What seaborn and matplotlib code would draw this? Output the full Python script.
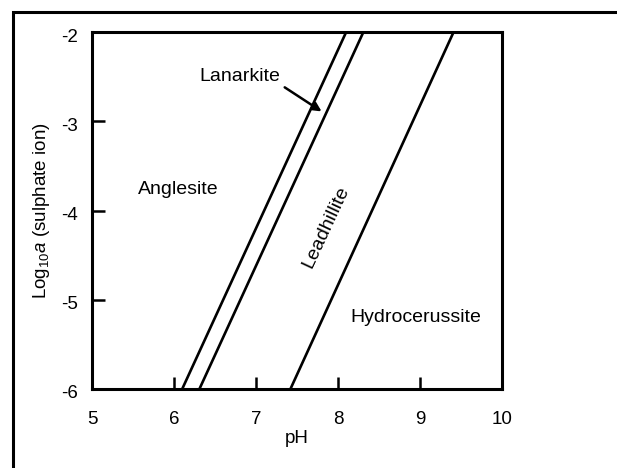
import matplotlib
matplotlib.use("Agg")
import matplotlib.pyplot as plt
import matplotlib.transforms as mtransforms
import seaborn as sns
import pandas as pd
from matplotlib.patches import Rectangle

# Boundary lines (pH at log a = -6 and at log a = -2)
boundaries = ["Anglesite/Lanarkite", "Lanarkite/Leadhillite", "Leadhillite/Hydrocerussite"]
ph_low = [6.10, 6.31, 7.42]
ph_high = [8.10, 8.31, 9.41]
log_low = [-6, -6, -6]
log_high = [-2, -2, -2]

x_ticks = [5, 6, 7, 8, 9, 10]
y_ticks = [-6, -5, -4, -3, -2]

region_labels = ["Anglesite", "Hydrocerussite"]
region_x = [6.05, 8.95]
region_y = [-3.76, -5.20]

rows = []
for b, x0, x1, y0, y1 in zip(boundaries, ph_low, ph_high, log_low, log_high):
    rows.append({"boundary": b, "pH": x0, "loga": y0})
    rows.append({"boundary": b, "pH": x1, "loga": y1})
df = pd.DataFrame(rows)

sns.set_style("white")
plt.rcParams["font.family"] = ["Liberation Sans", "DejaVu Sans"]
plt.rcParams["mathtext.fontset"] = "custom"
plt.rcParams["mathtext.rm"] = "Liberation Sans"
plt.rcParams["mathtext.it"] = "Liberation Sans:italic"
plt.rcParams["text.color"] = "black"
plt.rcParams["axes.labelcolor"] = "black"
plt.rcParams["xtick.color"] = "black"
plt.rcParams["ytick.color"] = "black"

fig = plt.figure(figsize=(6.17, 4.68), dpi=100)
ax = fig.add_axes([92/617, 1 - 389/468, 410/617, 357/468])

sns.lineplot(data=df, x="pH", y="loga", units="boundary", estimator=None,
             color="black", linewidth=1.9, ax=ax, sort=False)

ax.set_xlim(5, 10)
ax.set_ylim(-6, -2)
ax.set_xticks(x_ticks)
ax.set_yticks(y_ticks)
ax.set_xticklabels([str(t) for t in x_ticks])
ax.set_yticklabels([str(t) for t in y_ticks])
ax.tick_params(axis="x", direction="in", length=9, width=1.8, pad=16, labelsize=13.5,
               bottom=True, top=False)
ax.tick_params(axis="y", direction="in", length=9, width=1.8, pad=10, labelsize=13.5,
               left=True, right=False)
offset = mtransforms.ScaledTranslation(0, -3/100, fig.dpi_scale_trans)
for lab in ax.get_yticklabels():
    lab.set_transform(lab.get_transform() + offset)
for s in ax.spines.values():
    s.set_linewidth(2.2)
    s.set_color("black")

ax.set_xlabel("pH", fontsize=13.5, labelpad=1)
ax.set_ylabel(r"Log$_{10}$$\it{a}$ (sulphate ion)", fontsize=13.5, labelpad=7)

for lab, x, y in zip(region_labels, region_x, region_y):
    ax.text(x, y, lab, fontsize=14, ha="center", va="center")

ax.text(7.85, -4.18, "Leadhillite", fontsize=14, ha="center", va="center",
        rotation=65, rotation_mode="anchor")
ax.text(6.80, -2.50, "Lanarkite", fontsize=14, ha="center", va="center")
ax.annotate("", xy=(7.80, -2.89), xytext=(7.35, -2.62),
            arrowprops=dict(arrowstyle="-|>", color="black", lw=1.8,
                            mutation_scale=13, shrinkA=0, shrinkB=0))

# outer frame (left and top edges visible)
fig.patches.append(Rectangle((13/617, -0.1), 1.2, 1 - 12/468 + 0.1,
                             transform=fig.transFigure, fill=False,
                             edgecolor="black", linewidth=2.2))

fig.savefig("out.png", dpi=100)
